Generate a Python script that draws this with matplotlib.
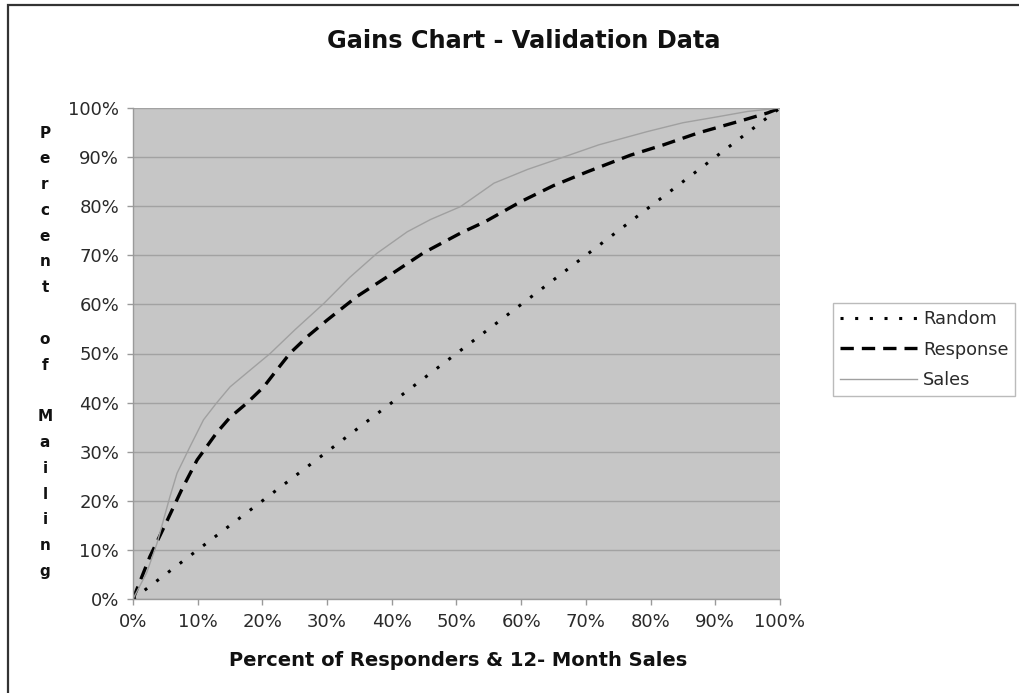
import matplotlib
matplotlib.use("Agg")
import matplotlib.pyplot as plt
from matplotlib.patches import Rectangle
from matplotlib.ticker import FuncFormatter, MultipleLocator

# ---- data (percent) ----
random_x = [0, 10, 20, 30, 40, 50, 60, 70, 80, 90, 100]
random_y = [0, 10, 20, 30, 40, 50, 60, 70, 80, 90, 100]

response_x = [0, 2.6, 5, 7.5, 9.9, 12.9, 15, 17.6, 20.2, 22.2, 24.3, 27, 30,
              34.6, 40.2, 44.9, 50.6, 54.5, 59.9, 65, 70.2, 76.9, 82, 87.3,
              94.5, 98.1, 100]
response_y = [0, 8.6, 15.2, 22.2, 28.3, 33.8, 37, 39.9, 43.2, 46.6, 50.1, 53.5,
              56.8, 61.6, 66.4, 70.5, 74.5, 76.9, 80.9, 84.2, 87, 90.4, 92.5,
              94.9, 97.6, 99, 100]

sales_x = [0, 2.1, 3.7, 5.7, 6.8, 8.8, 10.9, 12.9, 15, 18, 21.2, 25, 29.5,
           33.5, 37.7, 42.4, 46, 50.6, 55.8, 61, 66.1, 72, 79.5, 85, 90.3,
           95, 100]
sales_y = [0, 5.3, 11.3, 20.8, 25.6, 31, 36.5, 39.9, 43.2, 46.5, 50, 54.8,
           60.2, 65.5, 70.4, 74.8, 77.3, 79.9, 84.7, 87.5, 89.8, 92.5, 95.2,
           97, 98.2, 99.3, 100]

title = "Gains Chart - Validation Data"
xlabel = "Percent of Responders & 12- Month Sales"
ylabel = "Percent of Mailing"
series_names = ["Random", "Response", "Sales"]

W, H = 1020, 693
fig = plt.figure(figsize=(W / 100, H / 100), dpi=100)
fig.patch.set_facecolor("white")

# figure border (top/left visible, right/bottom run off the image)
fig.patches.append(Rectangle((8 / W, -0.05), 1.1, (H - 5) / H + 0.05,
                             transform=fig.transFigure, fill=False,
                             edgecolor="#333333", linewidth=1.6))

ax = fig.add_axes([133 / W, (H - 599) / H, 647 / W, 491 / H])
ax.set_facecolor("#c6c6c6")

ax.plot(random_x, random_y, color="black", linewidth=2.2,
        linestyle=(0, (1.0, 3.8)), label=series_names[0])
ax.plot(response_x, response_y, color="black", linewidth=2.4,
        linestyle=(0, (4.0, 2.4)), label=series_names[1])
ax.plot(sales_x, sales_y, color="#a0a0a0", linewidth=1.0,
        linestyle="-", label=series_names[2])

ax.set_xlim(0, 100)
ax.set_ylim(0, 100)
ax.xaxis.set_major_locator(MultipleLocator(10))
ax.yaxis.set_major_locator(MultipleLocator(10))
fmt = FuncFormatter(lambda v, p: f"{int(round(v))}%")
ax.xaxis.set_major_formatter(fmt)
ax.yaxis.set_major_formatter(fmt)
ax.grid(axis="y", color="#a2a2a2", linewidth=1.0)
ax.set_axisbelow(True)

for s in ["top", "right"]:
    ax.spines[s].set_visible(False)
for s in ["left", "bottom"]:
    ax.spines[s].set_color("#9a9a9a")
    ax.spines[s].set_linewidth(1.0)

ax.tick_params(axis="both", direction="out", length=4, width=1,
               color="#9a9a9a", labelsize=13, labelcolor="#2a2a2a",
               pad=6)
for lbl in ax.get_xticklabels() + ax.get_yticklabels():
    lbl.set_fontfamily("DejaVu Sans")

# title and axis labels
fig.text(524 / W, 1 - 41 / H, title, ha="center", va="center",
         fontsize=17.3, fontweight="bold", family="DejaVu Sans", color="#111111")
fig.text(458 / W, 1 - 660 / H, xlabel, ha="center", va="center",
         fontsize=14, fontweight="bold", family="DejaVu Sans", color="#111111")

# vertical stacked y-label, one character per line
chars = []
for wi, word in enumerate(ylabel.split(" ")):
    if wi > 0:
        chars.append("")
    chars.extend(list(word))
y0, step = 133, 25.8
for i, ch in enumerate(chars):
    if ch:
        fig.text(45 / W, 1 - (y0 + i * step) / H, ch, ha="center", va="center",
                 fontsize=11, fontweight="bold", family="DejaVu Sans",
                 color="#111111")

leg = ax.legend(loc="upper left", bbox_to_anchor=(833 / W, 1 - 303 / H),
                bbox_transform=fig.transFigure, frameon=True, fancybox=False,
                handlelength=4.3, handletextpad=0.35, borderpad=0.4,
                labelspacing=0.7, prop={"family": "DejaVu Sans", "size": 12.8},
                borderaxespad=0)
leg.get_frame().set_edgecolor("#aaaaaa")
leg.get_frame().set_linewidth(1.0)
for t in leg.get_texts():
    t.set_color("#2a2a2a")

fig.savefig("out.png", dpi=100)
